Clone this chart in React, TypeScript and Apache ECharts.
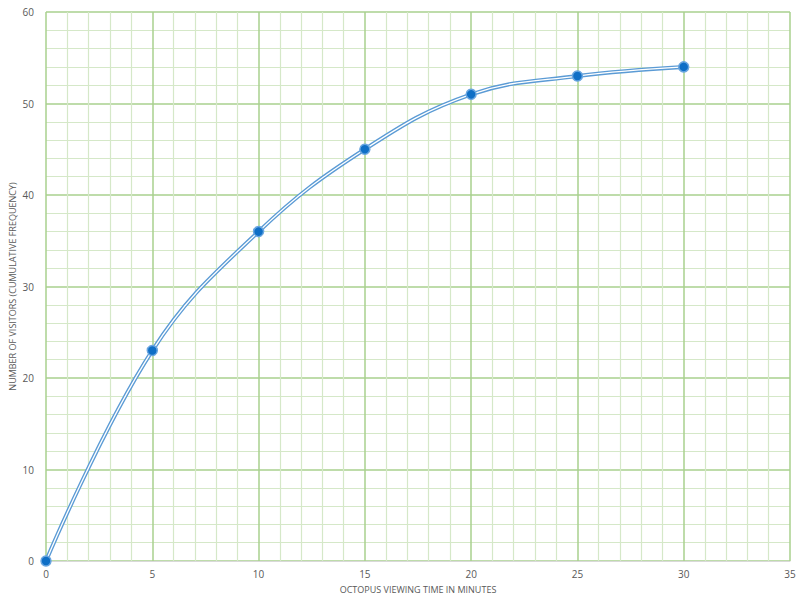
import React, { useEffect, useRef } from "react";
import * as echarts from "echarts";

const times = [0, 5, 10, 15, 20, 25, 30];
const visitors = [0, 23, 36, 45, 51, 53, 54];

export default function App() {
  const ref = useRef<HTMLDivElement>(null);
  useEffect(() => {
    if (!ref.current) return;
    const chart = echarts.init(ref.current, null, { renderer: "svg" });
    const data = times.map((t, i) => [t, visitors[i]]);
    const font = "'Open Sans', 'Noto Sans', sans-serif";
    chart.setOption({
      animation: false,
      grid: { left: 46, right: 10, top: 12, bottom: 42, containLabel: false, outerBoundsMode: "none" },
      xAxis: {
        type: "value",
        min: 0,
        max: 35,
        interval: 5,
        name: "OCTOPUS VIEWING TIME IN MINUTES",
        nameLocation: "middle",
        nameGap: 24,
        nameMoveOverlap: false,
        nameTextStyle: { color: "#595959", fontSize: 9, fontFamily: font },
        axisLine: { show: true, lineStyle: { color: "#d9d9d9", width: 1 } },
        axisTick: { show: false },
        axisLabel: { color: "#595959", fontSize: 10, fontFamily: font, margin: 8 },
        splitLine: { show: true, lineStyle: { color: "#a9d18e", width: 1.5 } },
        minorTick: { show: false, splitNumber: 5 },
        minorSplitLine: { show: true, lineStyle: { color: "#d5e8c8", width: 1.2 } },
      },
      yAxis: {
        type: "value",
        min: 0,
        max: 60,
        interval: 10,
        name: "NUMBER OF VISITORS (CUMULATIVE FREQUENCY)",
        nameLocation: "middle",
        nameGap: 29,
        nameMoveOverlap: false,
        nameTextStyle: { color: "#595959", fontSize: 9, fontFamily: font },
        axisLine: { show: false },
        axisTick: { show: false },
        axisLabel: { color: "#595959", fontSize: 10, fontFamily: font, margin: 12 },
        splitLine: { show: true, lineStyle: { color: "#a9d18e", width: 1.5 } },
        minorTick: { show: false, splitNumber: 5 },
        minorSplitLine: { show: true, lineStyle: { color: "#d5e8c8", width: 1.2 } },
      },
      series: [
        {
          type: "line",
          data,
          smooth: 0.4,
          showSymbol: false,
          symbol: "none",
          lineStyle: { color: "#5b9bd5", width: 4 },
          z: 2,
        },
        {
          type: "line",
          data,
          smooth: 0.4,
          symbol: "circle",
          symbolSize: 10,
          itemStyle: { color: "#0f6fc6", borderColor: "#6aa6e0", borderWidth: 1.5 },
          lineStyle: { color: "#ffffff", width: 1.3 },
          z: 3,
        },
      ],
    });
    return () => chart.dispose();
  }, []);
  return <div ref={ref} style={{ width: 800, height: 603, position: "absolute", left: 0, top: 0, background: "#fff" }} />;
}
